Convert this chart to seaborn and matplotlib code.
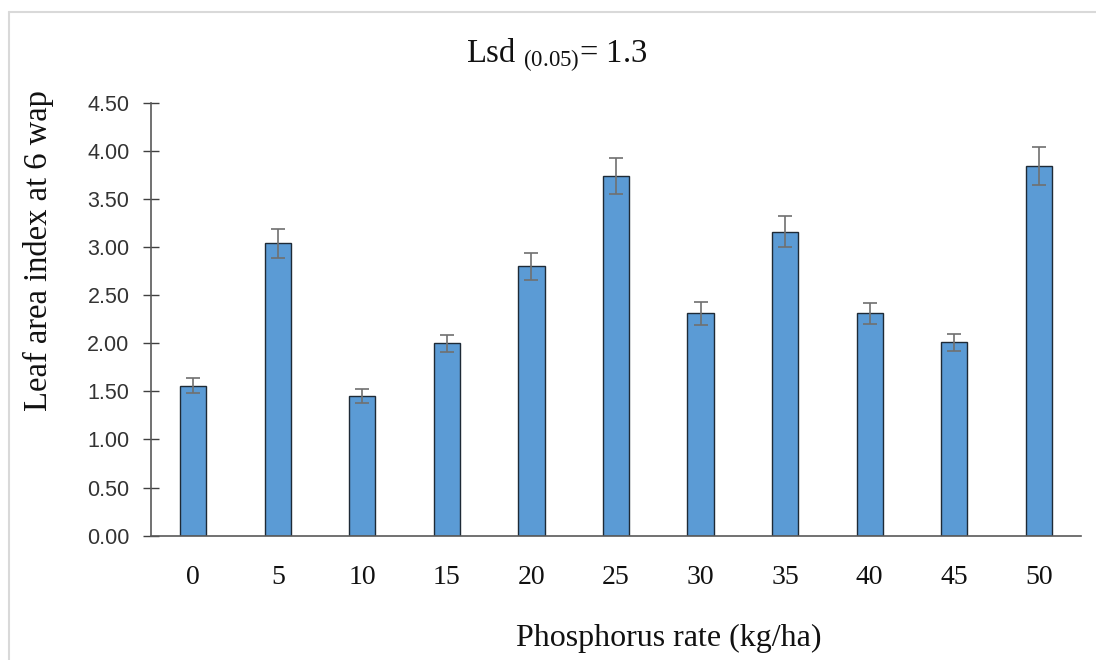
import matplotlib
matplotlib.use("Agg")
import matplotlib.pyplot as plt
import seaborn as sns
import pandas as pd
from matplotlib.lines import Line2D

# ---- data ----
rates = ["0", "5", "10", "15", "20", "25", "30", "35", "40", "45", "50"]
lai = [1.56, 3.04, 1.45, 2.00, 2.80, 3.74, 2.31, 3.16, 2.31, 2.01, 3.84]
err = [0.08, 0.15, 0.07, 0.09, 0.14, 0.19, 0.12, 0.16, 0.11, 0.09, 0.20]
yticks = [0.0, 0.5, 1.0, 1.5, 2.0, 2.5, 3.0, 3.5, 4.0, 4.5]

title_text = "Lsd $_{(0.05)}$= 1.3"
ylabel_text = "Leaf area index at 6 wap"
xlabel_text = "Phosphorus rate (kg/ha)"

sns.set_theme(style="white")
plt.rcParams["font.family"] = ["Liberation Serif", "DejaVu Serif"]
plt.rcParams["mathtext.fontset"] = "custom"
plt.rcParams["mathtext.rm"] = "Liberation Serif"
plt.rcParams["mathtext.default"] = "regular"

W, H = 1096, 660
fig = plt.figure(figsize=(W / 100, H / 100), dpi=100)
ax = fig.add_axes([151 / W, 1 - 535.7 / H, (1081 - 151) / W, (535.7 - 102.7) / H])

df = pd.DataFrame({"rate": rates, "lai": lai})
sns.barplot(data=df, x="rate", y="lai", order=rates, color="#5b9bd5",
            width=0.31, edgecolor="#1e2a36", linewidth=1.0, saturation=1,
            errorbar=None, ax=ax)
ax.errorbar(range(len(rates)), lai, yerr=err, fmt="none", ecolor="#707070",
            elinewidth=1.2, capsize=5, capthick=1.2, zorder=5)

ax.set_ylim(0, 4.5)
ax.set_xlim(-0.5, len(rates) - 0.5)
ax.set_yticks(yticks)
ax.set_yticklabels([f"{v:.2f}" for v in yticks], fontfamily="Liberation Sans",
                   fontsize=15.5, color="#333333")
ax.set_xticks(range(len(rates)))
ax.set_xticklabels(rates, fontsize=20, color="#111111")
ax.set_xlabel("")
ax.set_ylabel("")

for s in ["top", "right"]:
    ax.spines[s].set_visible(False)
for s in ["left", "bottom"]:
    ax.spines[s].set_color("#595959")
    ax.spines[s].set_linewidth(1.2)

ax.tick_params(axis="y", direction="inout", length=11, width=1.0,
               color="#404040", pad=10, left=True)
ax.tick_params(axis="x", length=0, pad=21)
ax.grid(False)

fig.text(557 / W, 1 - 62 / H, title_text, ha="center", va="baseline",
         fontsize=23.5, color="#111111")
fig.text(38 / W, 1 - 251 / H, ylabel_text, ha="center", va="center",
         rotation=90, fontsize=23.5, color="#111111")
fig.text(669 / W, 1 - 638 / H, xlabel_text, ha="center", va="center",
         fontsize=23, color="#111111")

# light chart border (left and top edges visible)
fig.add_artist(Line2D([8.5 / W, 8.5 / W], [0, 1 - 11.5 / H], color="#d9d9d9",
                      lw=1.5, transform=fig.transFigure))
fig.add_artist(Line2D([8.5 / W, 1], [1 - 11.5 / H, 1 - 11.5 / H], color="#d9d9d9",
                      lw=1.5, transform=fig.transFigure))

fig.savefig("out.png", dpi=100)
